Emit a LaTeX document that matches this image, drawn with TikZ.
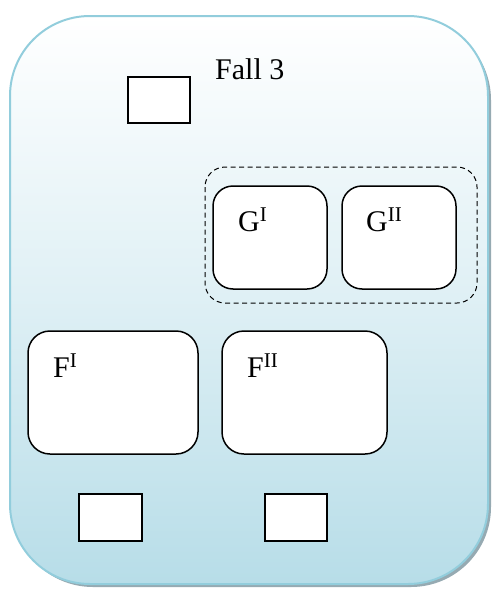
\documentclass[tikz,border=0pt]{standalone}
\usepackage{fontspec}
\setmainfont{Liberation Serif}
\definecolor{panelrim}{RGB}{146,205,220}
\definecolor{panelfoot}{RGB}{183,221,232}
\definecolor{panelshade}{RGB}{150,170,178}
\begin{document}
\begin{tikzpicture}[x=1pt,y=-1pt,
  every node/.style={font=\fontsize{30}{34}\selectfont, inner sep=0pt},
  roundbox/.style={draw=black, line width=1.5pt, fill=white, rounded corners=20pt},
  plainbox/.style={draw=black, line width=1.5pt, fill=white},
  groupbox/.style={draw=black, line width=1pt, dash pattern=on 5pt off 3.5pt, rounded corners=20pt}]
\useasboundingbox (0,0) rectangle (492,597);
% outer panel: shadow, gradient body, rim
\fill[panelshade, rounded corners=80pt] (13,20) rectangle (491,587);
\shade[top color=white, bottom color=panelfoot, middle color=white!55!panelfoot,
  rounded corners=80pt] (10,16) rectangle (488,584);
\draw[panelrim, line width=2pt, rounded corners=80pt] (10,16) rectangle (488,584);
% top
\draw[plainbox] (128,77) rectangle (190,123);
\node[anchor=base west] (title) at (215,79) {Fall 3};
% G group
\draw[groupbox] (205,167) rectangle (477,303);
\draw[roundbox] (213,186) rectangle (327,289);
\draw[roundbox] (342,186) rectangle (456,289);
\node[anchor=base west] (g1) at (238,231) {G\textsuperscript{I}};
\node[anchor=base west] (g2) at (366,231) {G\textsuperscript{II}};
% F boxes
\draw[roundbox, rounded corners=22pt] (28,331) rectangle (198,454);
\draw[roundbox, rounded corners=22pt] (222,331) rectangle (387,454);
\node[anchor=base west] (f1) at (53,377) {F\textsuperscript{I}};
\node[anchor=base west] (f2) at (247,377) {F\textsuperscript{II}};
% bottom
\draw[plainbox] (79,494) rectangle (142,541);
\draw[plainbox] (265,494) rectangle (327,541);
\end{tikzpicture}
\end{document}
